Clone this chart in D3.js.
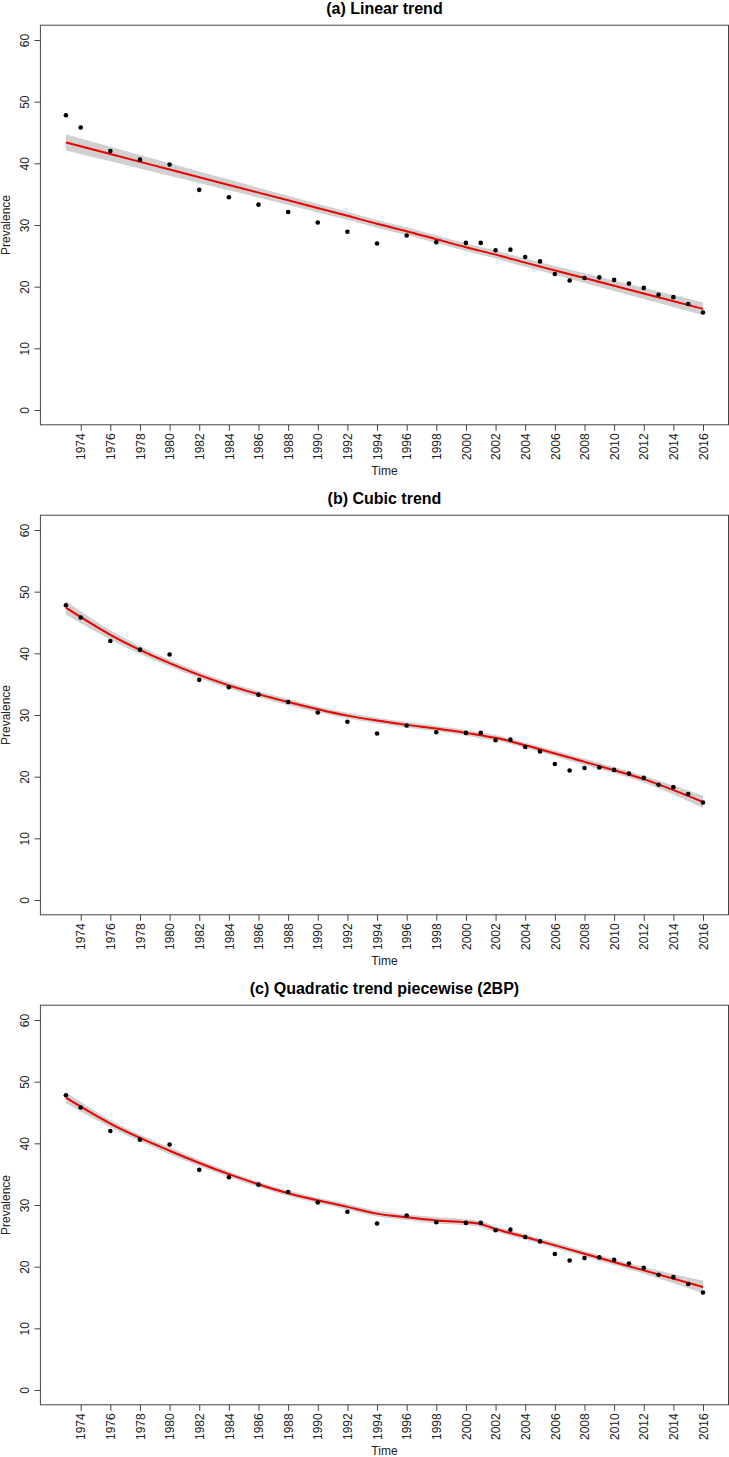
<!DOCTYPE html>
<html>
<head>
<meta charset="utf-8">
<script src="https://cdnjs.cloudflare.com/ajax/libs/d3/7.8.5/d3.min.js"></script>
<style>
  body { margin: 0; background: #fff; }
  text { font-family: Arial, "Liberation Sans", sans-serif; fill: #222; }
</style>
</head>
<body>
<div class="canvas"></div>
<script>
// observed prevalence
const years = [1973, 1974, 1976, 1978, 1980, 1982, 1984, 1986, 1988, 1990, 1992, 1994, 1996, 1998,
    2000, 2001, 2002, 2003, 2004, 2005, 2006, 2007, 2008, 2009, 2010, 2011, 2012, 2013, 2014, 2015, 2016];
const prevalence = [47.8, 45.8, 42.0, 40.6, 39.8, 35.7, 34.5, 33.3, 32.1, 30.4, 28.9, 27.0, 28.3, 27.2,
    27.1, 27.1, 25.9, 26.0, 24.8, 24.1, 22.05, 21.0, 21.4, 21.5, 21.1, 20.5, 19.8, 18.7, 18.3, 17.2, 15.8];

// fitted curves
const fitYears = [1973, 1976, 1980, 1984, 1988, 1992, 1994, 1996, 1998, 2000, 2001, 2002, 2004, 2008, 2012, 2016];
const linearFit = [43.4, 41.5, 39.0, 36.5, 34.0, 31.5, 30.2, 29.0, 27.7, 26.4, 25.8, 25.2, 23.9, 21.4, 18.9, 16.4];
const linearCI = [1.3, 1.17, 1.0, 0.86, 0.74, 0.66, 0.63, 0.62, 0.61, 0.62, 0.63, 0.64, 0.68, 0.79, 0.92, 1.05];
const cubicFit = [47.4, 43.0, 38.4, 34.8, 32.1, 29.9, 29.1, 28.4, 27.8, 27.1, 26.7, 26.3, 25.1, 22.4, 19.6, 15.9];
const cubicCI = [1.1, 0.75, 0.55, 0.5, 0.5, 0.45, 0.45, 0.45, 0.45, 0.45, 0.45, 0.45, 0.45, 0.5, 0.55, 1.0];
const pieceFit = [47.4, 43.2, 38.8, 35.0, 31.9, 29.7, 28.6, 28.0, 27.5, 27.2, 26.9, 26.1, 24.8, 22.1, 19.4, 16.7];
const pieceCI = [0.9, 0.6, 0.55, 0.45, 0.45, 0.45, 0.45, 0.45, 0.5, 0.5, 0.5, 0.45, 0.45, 0.45, 0.55, 1.0];

const titles = ['(a) Linear trend', '(b) Cubic trend', '(c) Quadratic trend piecewise (2BP)'];
const fits = [linearFit, cubicFit, pieceFit];
const cis = [linearCI, cubicCI, pieceCI];

const xTicks = d3.range(1974, 2017, 2);
const yTicks = [0, 10, 20, 30, 40, 50, 60];

const width = 729, height = 1457, panelH = 490;

const svg = d3.select('.canvas')
    .append('svg')
    .attr('width', width)
    .attr('height', height);

// R style 4% padding on the axes
const xPad = (2016 - 1973) * 0.04, yPad = 60 * 0.04;
const x = d3.scaleLinear()
    .domain([1973 - xPad, 2016 + xPad])
    .range([40.4, 728.5]);
const y = d3.scaleLinear()
    .domain([-yPad, 60 + yPad])
    .range([424.8, 25.2]);

const points = years.map((d, i) => ({ year: d, value: prevalence[i] }));

titles.forEach((title, p) => {
    const g = svg.append('g')
        .attr('transform', `translate(0, ${p * panelH})`);

    const fitData = fitYears.map((d, i) => ({ year: d, fit: fits[p][i], ci: cis[p][i] }));

    const area = d3.area()
        .x(d => x(d.year))
        .y0(d => y(d.fit - d.ci))
        .y1(d => y(d.fit + d.ci))
        .curve(d3.curveMonotoneX);

    const line = d3.line()
        .x(d => x(d.year))
        .y(d => y(d.fit))
        .curve(d3.curveMonotoneX);

    g.append('path')
        .datum(fitData)
        .attr('fill', '#d0d0d0')
        .attr('d', area);

    g.append('path')
        .datum(fitData)
        .attr('fill', 'none')
        .attr('stroke', '#ee0000')
        .attr('stroke-width', 2)
        .attr('d', line);

    g.selectAll('.dot')
        .data(points)
        .enter()
        .append('circle')
        .attr('class', 'dot')
        .attr('cx', d => x(d.year))
        .attr('cy', d => y(d.value))
        .attr('r', 2.3)
        .attr('fill', '#000');

    // box
    g.append('rect')
        .attr('x', x.range()[0])
        .attr('y', y.range()[1])
        .attr('width', x.range()[1] - x.range()[0])
        .attr('height', y.range()[0] - y.range()[1])
        .attr('fill', 'none')
        .attr('stroke', '#444')
        .attr('stroke-width', 1);

    // y axis
    const yAxis = g.append('g')
        .attr('transform', `translate(${x.range()[0]}, 0)`)
        .call(d3.axisLeft(y).tickValues(yTicks).tickSize(6).tickPadding(0));
    yAxis.select('.domain').remove();
    yAxis.selectAll('line').attr('stroke', '#444');
    yAxis.selectAll('text')
        .attr('x', null).attr('dy', null)
        .attr('font-size', 12)
        .attr('text-anchor', 'middle')
        .attr('transform', 'translate(-11.5, 0) rotate(-90)');

    // x axis
    const xAxis = g.append('g')
        .attr('transform', `translate(0, ${y.range()[0]})`)
        .call(d3.axisBottom(x).tickValues(xTicks).tickFormat(d3.format('d')).tickSize(6));
    xAxis.select('.domain').remove();
    xAxis.selectAll('line').attr('stroke', '#444');
    xAxis.selectAll('text')
        .attr('y', null).attr('dy', '0.35em')
        .attr('font-size', 12)
        .attr('text-anchor', 'end')
        .attr('transform', 'translate(0, 8.5) rotate(-90)');

    // labels
    const cx = (x.range()[0] + x.range()[1]) / 2;
    g.append('text')
        .attr('x', cx)
        .attr('y', y.range()[1] - 11.5)
        .attr('text-anchor', 'middle')
        .attr('font-size', 16)
        .attr('font-weight', 'bold')
        .style('fill', '#000')
        .text(title);

    g.append('text')
        .attr('x', cx)
        .attr('y', 475)
        .attr('text-anchor', 'middle')
        .attr('font-size', 12)
        .text('Time');

    g.append('text')
        .attr('transform', `translate(10, ${(y.range()[0] + y.range()[1]) / 2}) rotate(-90)`)
        .attr('text-anchor', 'middle')
        .attr('font-size', 12)
        .text('Prevalence');
});
</script>
</body>
</html>
